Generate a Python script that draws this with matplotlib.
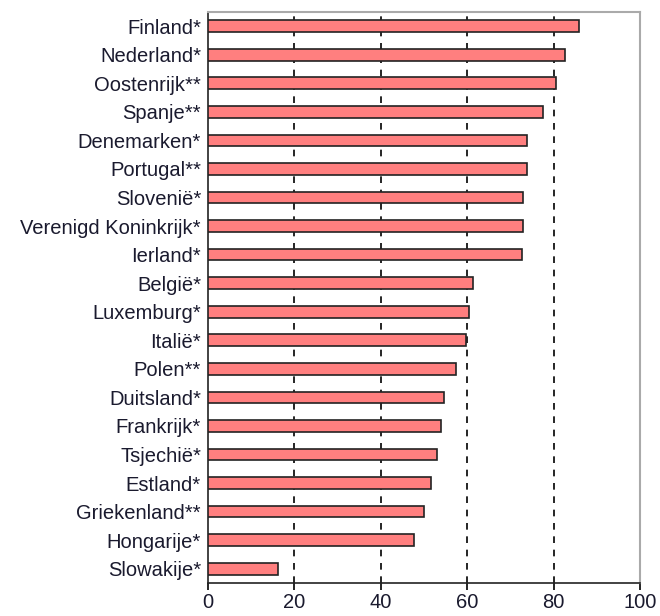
import matplotlib
matplotlib.use("Agg")
import matplotlib.pyplot as plt

# landen en percentages (van boven naar onder)
countries = ["Finland*", "Nederland*", "Oostenrijk**", "Spanje**", "Denemarken*",
             "Portugal**", "Slovenië*", "Verenigd Koninkrijk*", "Ierland*", "België*",
             "Luxemburg*", "Italië*", "Polen**", "Duitsland*", "Frankrijk*",
             "Tsjechië*", "Estland*", "Griekenland**", "Hongarije*", "Slowakije*"]
values = [85.9, 82.5, 80.6, 77.4, 73.8, 73.8, 73.0, 73.0, 72.7, 61.3,
          60.5, 59.7, 57.3, 54.6, 53.9, 53.1, 51.5, 50.0, 47.6, 16.2]
xticks = [0, 20, 40, 60, 80, 100]

plt.rcParams['font.family'] = ['Liberation Sans', 'DejaVu Sans']

fig = plt.figure(figsize=(6.6, 6.16), dpi=100)
ax = fig.add_axes([0.315, 0.0536, 0.655, 0.927])

ypos = list(range(len(countries)))
ax.barh(ypos, values, height=0.41, color="#ff7f7f", edgecolor="#222222", linewidth=1.2, zorder=3)

ax.set_ylim(len(countries) - 0.5, -0.5)
ax.set_xlim(0, 100)
ax.set_xticks(xticks)
ax.set_yticks(ypos)
ax.set_yticklabels(countries, fontsize=14.5, color="#1a1a2e")
ax.tick_params(axis='y', length=0, pad=5)
ax.tick_params(axis='x', direction='out', length=5, width=1.2, labelsize=14.5, labelcolor="#1a1a2e", pad=2)

for g in xticks[1:-1]:
    ax.axvline(g, color="black", linestyle=(0, (4, 4)), linewidth=1.2, zorder=1)

ax.spines['left'].set_color("#222222")
ax.spines['left'].set_linewidth(1.2)
ax.spines['bottom'].set_color("#222222")
ax.spines['bottom'].set_linewidth(1.2)
ax.spines['top'].set_color("#aaaaaa")
ax.spines['right'].set_color("#aaaaaa")
ax.spines['top'].set_linewidth(1.5)
ax.spines['right'].set_linewidth(1.5)

fig.savefig("out.png", dpi=100)
